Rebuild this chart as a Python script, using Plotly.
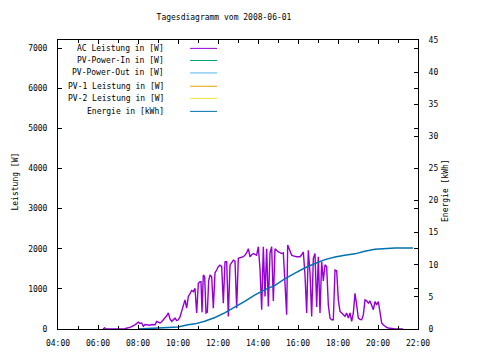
import plotly.graph_objects as go

DAY = "2008-06-01 "

ac_times = ["06:15","06:20","06:25","07:20","07:25","07:36","07:45","07:51","08:01","08:06","08:11","08:16","08:21","08:26","08:31","08:36","08:41","08:46","08:51","08:56",
"09:01","09:06","09:11","09:16","09:21","09:26","09:31","09:36","09:41","09:46","09:51","09:56","10:01","10:06","10:11","10:16","10:21","10:26","10:31","10:36",
"10:41","10:46","10:51","10:56","11:01","11:06","11:09","11:12","11:16","11:20","11:24","11:28","11:32","11:36","11:41","11:46","11:51","11:56","12:01","12:06",
"12:11","12:16","12:21","12:26","12:31","12:36","12:41","12:46","12:51","12:56","13:01","13:06","13:11","13:16","13:21","13:26","13:31","13:36","13:41","13:46",
"13:51","13:56","14:01","14:06","14:11","14:16","14:21","14:26","14:31","14:36","14:41","14:46","14:51","14:56","15:01","15:06","15:11","15:16","15:21","15:26",
"15:29","15:36","15:41","15:46","15:51","15:56","16:01","16:06","16:11","16:16","16:21","16:26","16:31","16:36","16:41","16:46","16:51","16:56","17:01","17:06",
"17:11","17:16","17:21","17:26","17:31","17:36","17:41","17:46","17:51","17:56","18:01","18:06","18:11","18:16","18:21","18:26","18:31","18:36","18:41","18:46",
"18:51","18:56","19:01","19:06","19:11","19:16","19:21","19:26","19:31","19:36","19:41","19:46","19:51","19:56","20:01","20:06","20:11","20:16","20:21","20:26",
"20:31","20:41","20:51","21:15"]
ac_power = [0,30,0,0,20,40,80,105,170,140,150,65,110,100,105,95,110,100,105,190,
170,150,180,230,270,330,400,250,190,240,270,210,230,300,440,600,725,520,810,880,
960,930,1015,400,1140,1180,1180,420,1345,1300,400,420,1200,1345,1300,520,1400,1470,1550,1590,
1560,645,1675,1680,315,1590,1650,1715,1690,520,1760,1770,1780,1800,1840,1900,2000,1800,1850,1880,
1860,1840,2050,1500,480,2050,810,2000,560,1900,2050,700,2000,1950,1920,1900,1880,1900,970,355,
2090,1920,1840,1820,1800,1800,1800,1800,1850,1920,1345,400,1960,1400,315,1760,1880,550,1800,400,
1675,1200,1600,1550,600,270,230,230,1470,1450,725,440,400,350,315,400,270,400,190,400,
890,600,270,240,230,350,725,700,645,700,560,480,685,600,685,355,150,100,65,40,
25,10,0,0]

en_times = ["08:00","09:00","09:30","10:00","10:30","10:51","11:20","11:51","12:20","12:51","13:20","13:51","14:20","14:51",
"15:20","15:51","16:20","16:51","17:21","17:51","18:20","18:51","19:20","19:51","20:20","20:51","21:45"]
energy = [0,0.1,0.2,0.3,0.65,0.8,1.2,1.8,2.5,3.4,4.3,5.3,6.1,6.8,
7.8,8.7,9.5,10.2,10.8,11.2,11.5,11.7,12.1,12.4,12.5,12.6,12.6]

series_names = ["AC Leistung in [W]","PV-Power-In in [W]","PV-Power-Out in [W]",
                "PV-1 Leistung in [W]","PV-2 Leistung in [W]","Energie in [kWh]"]
series_colors = ["#9400D3","#009E73","#56B4E9","#E69F00","#F0E442","#0072B2"]

FONT = "DejaVu Sans Mono"

fig = go.Figure()
fig.add_trace(go.Scatter(x=[DAY + t for t in ac_times], y=ac_power, mode="lines",
                         name=series_names[0], line=dict(color=series_colors[0], width=1.4)))
for i in range(1, 5):
    fig.add_trace(go.Scatter(x=[], y=[], mode="lines", name=series_names[i],
                             line=dict(color=series_colors[i], width=1)))
fig.add_trace(go.Scatter(x=[DAY + t for t in en_times], y=energy, mode="lines",
                         name=series_names[5], yaxis="y2",
                         line=dict(color=series_colors[5], width=1.5)))

# key (gnuplot-style: text right-aligned, sample line to the right)
row_y = [0.971, 0.929, 0.886, 0.840, 0.798, 0.753]
annotations = []
shapes = []
for name, col, yy in zip(series_names, series_colors, row_y):
    annotations.append(dict(x=0.30, y=yy, xref="paper", yref="paper", text=name,
                            showarrow=False, xanchor="right", yanchor="middle",
                            font=dict(family=FONT, size=8, color="black")))
    shapes.append(dict(type="line", xref="paper", yref="paper", x0=0.367, x1=0.442,
                       y0=yy, y1=yy, line=dict(color=col, width=1)))

# axis titles
annotations.append(dict(x=-0.135, y=0.51, xref="paper", yref="paper", text="Leistung [W]",
                        textangle=-90, showarrow=False, font=dict(family=FONT, size=8, color="black")))
annotations.append(dict(x=1.095, y=0.48, xref="paper", yref="paper", text="Energie [kWh]",
                        textangle=-90, showarrow=False, font=dict(family=FONT, size=8, color="black")))

axis_common = dict(showline=True, linecolor="black", linewidth=1, showgrid=False, zeroline=False,
                   ticks="inside", tickcolor="black", ticklen=4,
                   tickfont=dict(family=FONT, size=8, color="black"))

W, H = 472, 352
fig.update_layout(
    width=W, height=H,
    margin=dict(l=50, r=62, t=32, b=28),
    paper_bgcolor="white", plot_bgcolor="white",
    showlegend=False,
    title=dict(text="Tagesdiagramm vom 2008-06-01", x=216/W, xref="container", xanchor="center",
               y=1 - 9/H, yref="container", yanchor="middle",
               font=dict(family=FONT, size=8, color="black")),
    xaxis=dict(type="date", range=[DAY + "04:00", DAY + "22:00"], dtick=2*3600000,
               tickformat="%H:%M", mirror="ticks", ticklabelstandoff=6,
               minor=dict(dtick=3600000, ticks="inside", ticklen=3, tickcolor="black"),
               **axis_common),
    yaxis=dict(range=[0, 7200], dtick=1000, mirror="ticks", ticklabelstandoff=8, **axis_common),
    yaxis2=dict(range=[0, 45], dtick=5, overlaying="y", side="right", ticklabelstandoff=8,
                **axis_common),
    annotations=annotations,
    shapes=shapes,
)

fig.write_html("out.html")
